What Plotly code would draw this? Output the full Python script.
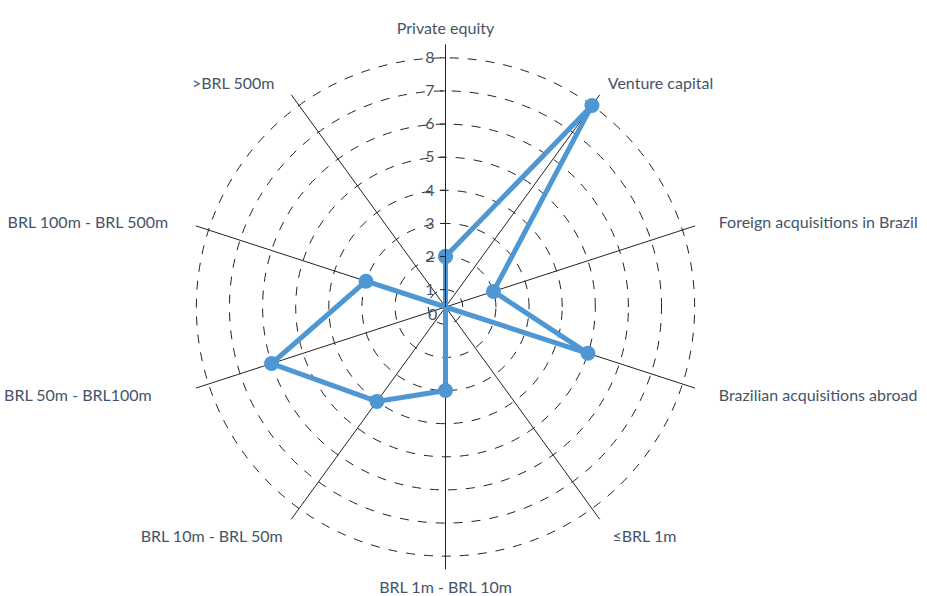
import plotly.graph_objects as go

categories = [
    "Private equity",
    "Venture capital",
    "Foreign acquisitions in Brazil",
    "Brazilian acquisitions abroad",
    "≤BRL 1m",
    "BRL 1m - BRL 10m",
    "BRL 10m - BRL 50m",
    "BRL 50m - BRL100m",
    "BRL 100m - BRL 500m",
    ">BRL 500m",
]
values = [2, 8, 2, 5, 0, 3, 4, 6, 3, 0]
radial_ticks = [1, 2, 3, 4, 5, 6, 7, 8]

LINE_COLOR = "#4E97D3"
TEXT_COLOR = "#44546A"
FONT = "Lato"

# extra spacing (in non-breaking spaces) between each category label and the chart
NB = "\u00a0"
label_pad_before = {"Venture capital": 1, "Foreign acquisitions in Brazil": 4,
                    "Brazilian acquisitions abroad": 4, "≤BRL 1m": 2}
label_pad_after = {">BRL 500m": 3, "BRL 100m - BRL 500m": 5,
                   "BRL 50m - BRL100m": 9, "BRL 10m - BRL 50m": 1}
ticktext = [NB * label_pad_before.get(c, 0) + c + NB * label_pad_after.get(c, 0)
            for c in categories]

fig = go.Figure()
fig.add_trace(go.Scatterpolar(
    r=values + values[:1],
    theta=categories + categories[:1],
    mode="lines+markers",
    line=dict(color=LINE_COLOR, width=5),
    marker=dict(color=LINE_COLOR, size=15),
    showlegend=False,
    hoverinfo="skip",
))

cx, cy, R = 445.5, 307.0, 262.4
W, H = 927, 596
fig.update_layout(
    width=W, height=H,
    margin=dict(l=0, r=0, t=0, b=0),
    paper_bgcolor="white",
    font=dict(family=FONT, color=TEXT_COLOR, size=16),
    polar=dict(
        domain=dict(x=[(cx - R) / W, (cx + R) / W],
                    y=[(H - cy - R) / H, (H - cy + R) / H]),
        bgcolor="white",
        angularaxis=dict(
            direction="clockwise", rotation=90,
            categoryorder="array", categoryarray=categories,
            tickvals=categories, ticktext=ticktext,
            showline=False,
            ticks="outside", ticklen=4, tickcolor="rgba(0,0,0,0)",
            gridcolor="#222222", gridwidth=0.8,
            tickfont=dict(family=FONT, size=16, color=TEXT_COLOR),
        ),
        radialaxis=dict(
            range=[0.477, 8.4], angle=90, side="counterclockwise",
            tickvals=radial_ticks, ticktext=[str(t) for t in radial_ticks],
            showline=True, linecolor="#222222", linewidth=1,
            ticks="outside", ticklen=5, tickcolor="#222222",
            gridcolor="#222222", gridwidth=0.8, griddash="dash",
            tickfont=dict(family=FONT, size=16, color=TEXT_COLOR),
            tickangle=90,
        ),
    ),
    # origin label of the radial scale, at the centre of the polar domain
    annotations=[dict(
        text="0", xref="paper", yref="paper", x=cx / W, y=1 - cy / H,
        xanchor="right", yanchor="middle", xshift=-7, yshift=-6,
        showarrow=False, font=dict(family=FONT, size=16, color=TEXT_COLOR),
    )],
)
fig.write_html("out.html", config={"displayModeBar": False},
               post_script="document.body.style.margin='0px';")
